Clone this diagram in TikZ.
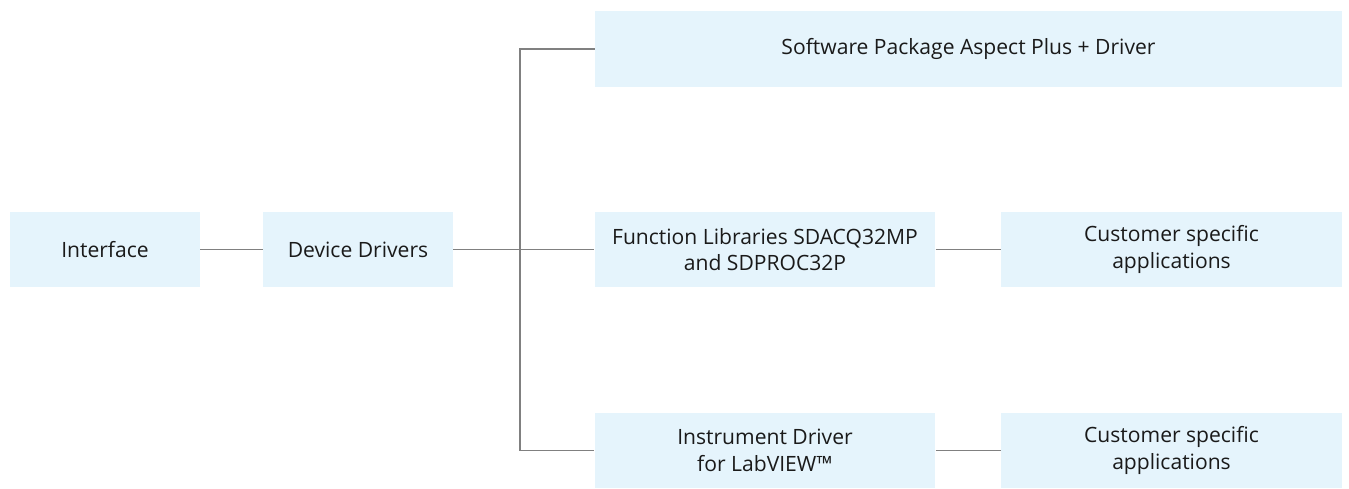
\documentclass[tikz,border=0pt]{standalone}
\usepackage{fontspec}
\setmainfont{Open Sans}
\usepackage{tikz}
\usetikzlibrary{positioning}
\definecolor{boxblue}{HTML}{E5F4FC}
\definecolor{linegray}{HTML}{808080}
\definecolor{textdark}{HTML}{1A1A1A}

\begin{document}
\begin{tikzpicture}[x=0.02cm,y=-0.02cm]
	\tikzstyle{box} = [rectangle, fill=boxblue, text=textdark, inner sep=0pt, align=center, font=\fontsize{12}{15}\selectfont];
	\tikzstyle{smallbox} = [box, minimum width=3.8cm, minimum height=1.5cm];
	\tikzstyle{widebox} = [box, minimum width=6.81cm, minimum height=1.5cm];
	\tikzstyle{link} = [draw=linegray, line width=0.6pt];
	
	\useasboundingbox (0,0) rectangle (1349,488);
	
	\node[smallbox] (iface) at (105,249.5) {Interface};
	\node[smallbox] (devdrv) at (358,249.5) {Device Drivers};
	
	\node[box, minimum width=14.94cm, minimum height=1.52cm] (aspect) at (968.5,49) {Software Package Aspect Plus + Driver};
	\node[widebox] (funclib) at (765,249.5) {Function Libraries SDACQ32MP\\and SDPROC32P};
	\node[widebox] (instdrv) at (765,450.5) {Instrument Driver\\for LabVIEW™};
	
	\node[widebox] (cust1) at (1171.5,249.5) {Customer specific\\applications};
	\node[widebox] (cust2) at (1171.5,450.5) {Customer specific\\applications};
	
	\coordinate (trunktop) at (520,49);
	\coordinate (trunkbot) at (520,450.5);
	
	\path[link] (iface) edge (devdrv);
	\path[link] (devdrv) edge (funclib);
	\draw[link] (aspect.west) -- (trunktop) -- (trunkbot) -- (instdrv.west);
	\path[link] (funclib) edge (cust1);
	\path[link] (instdrv) edge (cust2);
\end{tikzpicture}
\end{document}
